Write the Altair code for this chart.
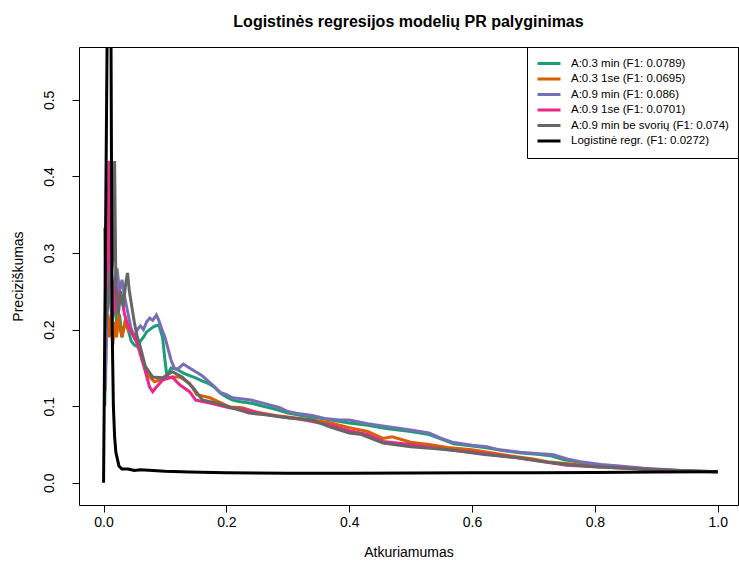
import altair as alt
import pandas as pd

series_names = [
    "A:0.3 min (F1: 0.0789)",
    "A:0.3 1se (F1: 0.0695)",
    "A:0.9 min (F1: 0.086)",
    "A:0.9 1se (F1: 0.0701)",
    "A:0.9 min be svorių (F1: 0.074)",
    "Logistinė  regr. (F1: 0.0272)",
]
series_colors = ["#1B9E77", "#D95F02", "#7570B3", "#E7298A", "#666666", "#000000"]

x_ticks = [0.0, 0.2, 0.4, 0.6, 0.8, 1.0]
y_ticks = [0.0, 0.1, 0.2, 0.3, 0.4, 0.5]

green_recall = [0.002, 0.004, 0.007, 0.010, 0.014, 0.018, 0.022, 0.026, 0.030, 0.035, 0.040, 0.045,
                0.050, 0.055, 0.060, 0.065, 0.070, 0.075, 0.080, 0.085, 0.090, 0.096, 0.100, 0.103,
                0.110, 0.120, 0.130, 0.140, 0.150, 0.160, 0.170, 0.180, 0.190, 0.200, 0.210, 0.220,
                0.240, 0.260, 0.280, 0.300, 0.320, 0.340, 0.370, 0.400, 0.430, 0.460, 0.500, 0.530,
                0.550, 0.570, 0.600, 0.620, 0.650, 0.680, 0.710, 0.730, 0.750, 0.780, 0.810, 0.840,
                0.880, 0.920, 0.960, 1.000]
green_precision = [0.100, 0.220, 0.300, 0.250, 0.210, 0.240, 0.200, 0.220, 0.190, 0.210, 0.200, 0.185,
                   0.180, 0.178, 0.185, 0.190, 0.197, 0.200, 0.203, 0.205, 0.206, 0.190, 0.160, 0.140,
                   0.150, 0.148, 0.143, 0.140, 0.137, 0.133, 0.130, 0.125, 0.117, 0.112, 0.108, 0.106,
                   0.104, 0.100, 0.096, 0.091, 0.088, 0.086, 0.082, 0.078, 0.075, 0.071, 0.067, 0.063,
                   0.057, 0.051, 0.048, 0.046, 0.042, 0.039, 0.037, 0.035, 0.030, 0.026, 0.023, 0.021,
                   0.018, 0.016, 0.015, 0.0144]

orange_recall = [0.003, 0.006, 0.009, 0.012, 0.015, 0.018, 0.021, 0.024, 0.027, 0.030, 0.035, 0.040,
                 0.043, 0.048, 0.054, 0.063, 0.075, 0.083, 0.100, 0.112, 0.124, 0.140, 0.152, 0.173,
                 0.205, 0.226, 0.250, 0.280, 0.310, 0.340, 0.370, 0.400, 0.430, 0.455, 0.470, 0.500,
                 0.530, 0.560, 0.600, 0.640, 0.672, 0.700, 0.726, 0.770, 0.835, 0.900, 0.950, 1.000]
orange_precision = [0.150, 0.220, 0.190, 0.220, 0.180, 0.210, 0.190, 0.220, 0.200, 0.190, 0.210, 0.200,
                    0.204, 0.195, 0.190, 0.160, 0.138, 0.132, 0.137, 0.138, 0.138, 0.130, 0.115, 0.111,
                    0.099, 0.098, 0.092, 0.088, 0.085, 0.082, 0.078, 0.072, 0.067, 0.058, 0.060, 0.053,
                    0.050, 0.046, 0.043, 0.038, 0.034, 0.031, 0.027, 0.024, 0.021, 0.017, 0.015, 0.0144]

purple_recall = [0.003, 0.006, 0.010, 0.013, 0.017, 0.022, 0.026, 0.030, 0.035, 0.040, 0.045, 0.050,
                 0.055, 0.060, 0.065, 0.070, 0.075, 0.080, 0.086, 0.090, 0.095, 0.100, 0.105, 0.110,
                 0.115, 0.120, 0.130, 0.140, 0.150, 0.160, 0.170, 0.180, 0.190, 0.200, 0.210, 0.220,
                 0.240, 0.260, 0.287, 0.300, 0.320, 0.340, 0.360, 0.384, 0.400, 0.430, 0.466, 0.500,
                 0.530, 0.550, 0.568, 0.600, 0.624, 0.645, 0.678, 0.710, 0.731, 0.755, 0.780, 0.810,
                 0.840, 0.880, 0.920, 0.960, 1.000]
purple_precision = [0.120, 0.250, 0.270, 0.220, 0.260, 0.280, 0.250, 0.265, 0.240, 0.220, 0.200, 0.190,
                    0.200, 0.205, 0.200, 0.210, 0.215, 0.212, 0.219, 0.212, 0.200, 0.190, 0.175, 0.160,
                    0.150, 0.148, 0.155, 0.150, 0.145, 0.140, 0.133, 0.126, 0.118, 0.115, 0.111, 0.110,
                    0.108, 0.104, 0.098, 0.093, 0.090, 0.088, 0.084, 0.082, 0.082, 0.077, 0.073, 0.069,
                    0.065, 0.058, 0.053, 0.049, 0.047, 0.043, 0.040, 0.038, 0.037, 0.031, 0.027, 0.024,
                    0.022, 0.019, 0.017, 0.015, 0.0144]

pink_recall = [0.003, 0.006, 0.009, 0.011, 0.014, 0.017, 0.020, 0.023, 0.026, 0.030, 0.034, 0.038,
               0.043, 0.054, 0.064, 0.075, 0.080, 0.086, 0.096, 0.112, 0.124, 0.140, 0.150, 0.173,
               0.205, 0.232, 0.260, 0.290, 0.320, 0.340, 0.370, 0.400, 0.430, 0.455, 0.500, 0.560,
               0.600, 0.670, 0.720, 0.754, 0.800, 0.900, 1.000]
pink_precision = [0.200, 0.300, 0.420, 0.280, 0.250, 0.220, 0.260, 0.230, 0.250, 0.240, 0.220, 0.210,
                  0.200, 0.183, 0.157, 0.125, 0.119, 0.125, 0.134, 0.138, 0.128, 0.119, 0.108, 0.104,
                  0.098, 0.095, 0.090, 0.086, 0.083, 0.080, 0.075, 0.068, 0.063, 0.054, 0.050, 0.043,
                  0.040, 0.033, 0.027, 0.023, 0.021, 0.017, 0.0144]

gray_recall = [0.002, 0.004, 0.008, 0.012, 0.016, 0.018, 0.020, 0.024, 0.028, 0.032, 0.036, 0.039,
               0.042, 0.046, 0.050, 0.055, 0.058, 0.068, 0.080, 0.096, 0.112, 0.128, 0.145, 0.161,
               0.184, 0.205, 0.237, 0.260, 0.300, 0.340, 0.368, 0.400, 0.420, 0.455, 0.500, 0.563,
               0.620, 0.672, 0.720, 0.754, 0.800, 0.900, 1.000]
gray_precision = [0.333, 0.200, 0.250, 0.270, 0.300, 0.420, 0.260, 0.220, 0.250, 0.230, 0.260, 0.274,
                  0.250, 0.230, 0.210, 0.190, 0.183, 0.152, 0.138, 0.137, 0.145, 0.138, 0.125, 0.108,
                  0.104, 0.099, 0.091, 0.089, 0.085, 0.082, 0.073, 0.065, 0.063, 0.052, 0.047, 0.043,
                  0.037, 0.033, 0.027, 0.024, 0.021, 0.017, 0.0144]

black_recall = [0.000, 0.010, 0.014, 0.016, 0.018, 0.020, 0.025, 0.030, 0.040, 0.050, 0.060, 0.080,
                0.100, 0.140, 0.200, 0.300, 0.400, 0.500, 0.600, 0.700, 0.800, 0.900, 1.000]
black_precision = [0.000, 1.000, 0.200, 0.100, 0.060, 0.040, 0.022, 0.018, 0.018, 0.016, 0.017, 0.016,
                   0.015, 0.014, 0.013, 0.0125, 0.0125, 0.0128, 0.013, 0.0132, 0.0135, 0.014, 0.0144]

all_series = [
    (green_recall, green_precision),
    (orange_recall, orange_precision),
    (purple_recall, purple_precision),
    (pink_recall, pink_precision),
    (gray_recall, gray_precision),
    (black_recall, black_precision),
]

rows = []
for name, (rec, prec) in zip(series_names, all_series):
    for i, (r, p) in enumerate(zip(rec, prec)):
        rows.append({"series": name, "recall": r, "precision": p, "idx": i})
df = pd.DataFrame(rows)

FONT = "Liberation Sans"

x_axis = alt.Axis(
    title="Atkuriamumas", values=x_ticks, format=".1f", grid=False, domain=False,
    tickSize=7, tickColor="black", tickWidth=1,
    labelFont=FONT, labelFontSize=14, labelColor="black", labelPadding=3,
    labelFlush=False, labelOverlap=False,
    titleFont=FONT, titleFontSize=14, titleFontWeight="normal", titleColor="black",
    titleY=51, titleBaseline="alphabetic",
)
y_axis = alt.Axis(
    title="Preciziškumas", values=y_ticks, format=".1f", grid=False, domain=False,
    tickSize=7, tickColor="black", tickWidth=1,
    labelFont=FONT, labelFontSize=14, labelColor="black", labelPadding=16,
    labelAngle=270, labelAlign="center", labelBaseline="bottom",
    labelFlush=False, labelOverlap=False,
    titleFont=FONT, titleFontSize=14, titleFontWeight="normal", titleColor="black",
    titleAngle=270, titleX=-61, titleY=229, titleAlign="center", titleBaseline="middle",
)

legend = alt.Legend(
    title=None, orient="top-right", offset=0, strokeColor="black", fillColor="white",
    padding=9, symbolType="stroke", symbolSize=529, symbolStrokeWidth=3, clipHeight=15,
    labelFont=FONT, labelFontSize=11.5, labelColor="black", labelOffset=9, rowPadding=0.5,
    labelLimit=400, cornerRadius=0,
)

x_scale = alt.Scale(domain=[-0.04, 1.033], nice=False, zero=False)
y_scale = alt.Scale(domain=[-0.029, 0.569], nice=False, zero=False)
color_scale = alt.Scale(domain=series_names, range=series_colors)

layers = []
for name in series_names:
    layers.append(
        alt.Chart(df)
        .transform_filter(alt.datum.series == name)
        .mark_line(strokeWidth=3, clip=True)
        .encode(
            x=alt.X("recall:Q", scale=x_scale, axis=x_axis),
            y=alt.Y("precision:Q", scale=y_scale, axis=y_axis),
            color=alt.Color("series:N", scale=color_scale, legend=legend),
            order=alt.Order("idx:Q"),
        )
    )

chart = (
    alt.layer(*layers)
    .properties(
        width=659, height=458,
        title=alt.Title(
            "Logistinės regresijos modelių PR palyginimas", font=FONT, fontSize=16,
            fontWeight="bold", color="black", anchor="middle", frame="group",
            offset=4, baseline="alphabetic",
        ),
        padding={"left": 79, "top": 47, "right": 1, "bottom": 57},
        autosize=alt.AutoSizeParams(type="none"),
        background="white",
    )
    .configure_view(stroke="black", strokeWidth=1)
)

chart.save("out.html", embed_options={"renderer": "svg", "actions": False})
